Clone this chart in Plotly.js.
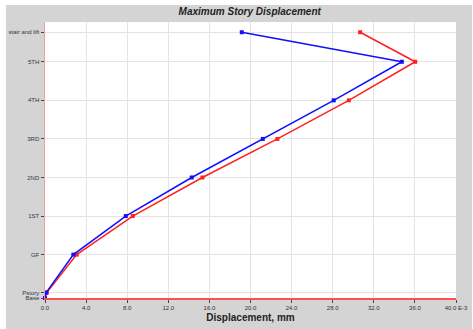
<!DOCTYPE html>
<html>
<head>
<meta charset="utf-8">
<script src="https://cdn.plot.ly/plotly-3.0.1.min.js"></script>
<style>
html,body{margin:0;padding:0;background:#ffffff;width:473px;height:329px;overflow:hidden;}
#chart{position:absolute;left:6px;top:5px;width:466px;height:324px;}
</style>
</head>
<body>
<div id="chart"></div>
<script>
// Story labels and their elevations (m)
const stories = ["Base", "Pstory", "GF", "1ST", "2ND", "3RD", "4TH", "5TH", "stair and lift"];
const elevations = [0, 0.45, 3.6, 6.8, 10.0, 13.2, 16.4, 19.6, 22.05];
// Displacement (mm) per story
const dispBlue = [0, 0.12, 2.76, 7.86, 14.28, 21.2, 28.1, 34.73, 19.15];
const dispRed  = [0, 0.17, 3.08, 8.54, 15.32, 22.62, 29.57, 36.03, 30.67];
// X tick values / labels
const xTickVals = [0, 4, 8, 12, 16, 20, 24, 28, 32, 36, 40];
const xTickText = ["0.0", "4.0", "8.0", "12.0", "16.0", "20.0", "24.0", "28.0", "32.0", "36.0", "40.0 E-3"];

const traces = [
  {x: dispRed, y: elevations, mode: "lines+markers", cliponaxis: false,
   line: {color: "#ff2020", width: 1.5}, marker: {color: "#ff2020", size: 4, symbol: "square"}, hoverinfo: "none"},
  {x: dispBlue, y: elevations, mode: "lines+markers", cliponaxis: false,
   line: {color: "#1010ff", width: 1.5}, marker: {color: "#1010ff", size: 4, symbol: "square"}, hoverinfo: "none"}
];

const layout = {
  width: 466, height: 324,
  paper_bgcolor: "#d4d4d4", plot_bgcolor: "#ffffff",
  margin: {l: 39, r: 16, t: 17, b: 31, pad: 0},
  showlegend: false,
  font: {family: "Liberation Sans, Arial, sans-serif", color: "#222222", size: 6},
  title: {text: "<b><i>Maximum Story Displacement</i></b>", x: 0.523, xanchor: "center", y: 0.99, yanchor: "top",
          font: {size: 10, color: "#222222", family: "Liberation Sans, Arial, sans-serif"}},
  xaxis: {
    range: [0, 40], tickvals: xTickVals, ticktext: xTickText,
    showgrid: true, gridcolor: "#e4e4e4", gridwidth: 1, zeroline: false,
    showline: true, linecolor: "#ff5050", linewidth: 1.5,
    ticks: "outside", ticklen: 3, tickcolor: "#444444", tickfont: {size: 6, color: "#333333"},
    title: {text: "<b>Displacement, mm</b>", standoff: 4, font: {size: 10, color: "#222222"}}
  },
  yaxis: {
    range: [0, 22.9], tickvals: elevations, ticktext: stories,
    showgrid: true, gridcolor: "#e4e4e4", gridwidth: 1, zeroline: false,
    showline: true, linecolor: "#f0a0a0", linewidth: 1.5,
    ticks: "outside", ticklen: 3, tickcolor: "#444444", tickfont: {size: 6, color: "#333333"}
  }
};

Plotly.newPlot("chart", traces, layout, {displayModeBar: false, staticPlot: true});
</script>
</body>
</html>
